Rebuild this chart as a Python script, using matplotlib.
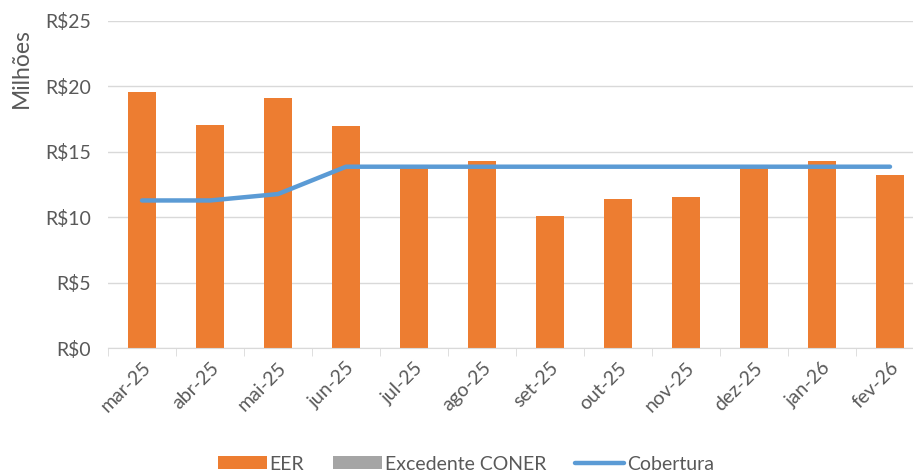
import numpy as np
import matplotlib
matplotlib.use('Agg')
import matplotlib.pyplot as plt
from matplotlib.ticker import FuncFormatter

# Dados (milhões de R$)
meses = ['mar-25', 'abr-25', 'mai-25', 'jun-25', 'jul-25', 'ago-25',
         'set-25', 'out-25', 'nov-25', 'dez-25', 'jan-26', 'fev-26']
eer = [19.6, 17.05, 19.1, 16.97, 13.75, 14.3, 10.1, 11.37, 11.52, 13.8, 14.27, 13.23]
excedente = [0, 0, 0, 0, 0, 0, 0, 0, 0, 0, 0, 0]
cobertura = [11.28, 11.28, 11.77, 13.86, 13.86, 13.86, 13.86, 13.86, 13.86, 13.86, 13.86, 13.86]

cinza = '#595959'
plt.rcParams['font.family'] = ['Lato', 'DejaVu Sans']

fig = plt.figure(figsize=(9.13, 4.75), dpi=100)
ax = fig.add_axes([108/913, 1-348/475, 816/913, 327/475])

x = np.arange(len(meses))
b1 = ax.bar(x, eer, width=0.42, color='#ED7D31', label='EER', zorder=2)
b2 = ax.bar(x, excedente, bottom=eer, width=0.42, color='#A5A5A5', label='Excedente CONER', zorder=2)
l1, = ax.plot(x, cobertura, color='#5B9BD5', lw=3.2, solid_capstyle='round', label='Cobertura', zorder=3)

ax.set_xlim(-0.5, len(meses) - 0.5)
ax.set_ylim(0, 25)
ax.set_yticks([0, 5, 10, 15, 20, 25])
ax.yaxis.set_major_formatter(FuncFormatter(lambda v, p: 'R$%d' % v))
ax.grid(axis='y', color='#d9d9d9', lw=1, zorder=0)
ax.set_axisbelow(True)

ax.set_xticks(x)
ax.set_xticklabels(meses, rotation=45, ha='right', rotation_mode='anchor')
ax.set_xticks(np.arange(-0.5, len(meses)), minor=True)
ax.tick_params(axis='x', which='major', length=0, pad=8, labelsize=14, colors=cinza)
ax.tick_params(axis='x', which='minor', length=6, color='#d9d9d9')
ax.tick_params(axis='y', length=0, pad=12, labelsize=14, colors=cinza)

for s in ['top', 'right', 'left']:
    ax.spines[s].set_visible(False)
ax.spines['bottom'].set_color('#d9d9d9')

fig.text(21/913, 1-68/475, 'Milhões', rotation=90, ha='center', va='center',
         fontsize=16.5, color=cinza)

leg = fig.legend([b1, b2, l1], ['EER', 'Excedente CONER', 'Cobertura'],
                 loc='center', bbox_to_anchor=(466/913, 1-464/475), ncol=3,
                 frameon=False, fontsize=14, handlelength=2.5, handleheight=0.6,
                 columnspacing=1.5, handletextpad=0.15)
for t in leg.get_texts():
    t.set_color(cinza)

fig.savefig('out.png', dpi=100)
